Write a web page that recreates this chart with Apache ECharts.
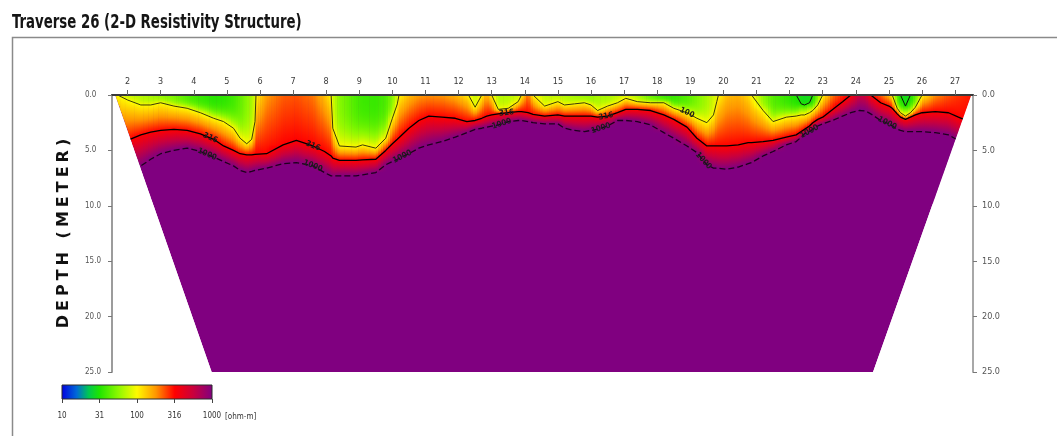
<!DOCTYPE html>
<html>
<head>
<meta charset="utf-8">
<script src="https://cdn.jsdelivr.net/npm/echarts@6/dist/echarts.min.js"></script>
<style>
  html, body { margin: 0; padding: 0; background: #fff; }
  #chart { width: 1057px; height: 436px; }
</style>
</head>
<body>
<div id="chart"></div>
<script>
// Electrode numbers along the traverse (top axis) and depth ticks (m)
const electrodes = [2, 3, 4, 5, 6, 7, 8, 9, 10, 11, 12, 13, 14, 15, 16, 17, 18, 19, 20, 21, 22, 23, 24, 25, 26, 27];
const depthTicks = [0, 5, 10, 15, 20, 25];

// Pseudosection extent, in electrode units: upper corners at 0 m, lower corners at 25 m
const sectionTop = [1.62, 27.49];
const sectionBase = [4.54, 24.52];
const sectionDepth = 25;

// Sounding stations (electrode units) with apparent resistivity at the surface (ohm-m)
const stations = [
  1.62, 1.70, 2.00, 2.40, 2.70, 3.00, 3.40, 3.80, 4.20, 4.60, 4.90, 5.20, 5.40, 5.60, 5.75, 5.85, 5.88,
  6.20, 6.70, 7.10, 7.60, 7.95, 8.15, 8.20, 8.40, 8.90, 9.10, 9.50, 9.80, 10.00, 10.15, 10.20,
  10.50, 10.80, 11.10, 11.50, 11.90, 12.25, 12.30, 12.50, 12.70, 12.85, 13.00, 13.20, 13.50, 13.80, 13.90,
  14.10, 14.25, 14.60, 15.00, 15.20, 15.50, 15.80, 16.00, 16.20, 16.50, 16.80, 17.05, 17.40, 17.80,
  18.20, 18.50, 18.90, 19.20, 19.50, 19.70, 19.80, 19.85, 20.10, 20.45, 20.75, 20.85, 21.20, 21.50,
  21.90, 22.20, 22.35, 22.45, 22.60, 22.70, 22.85, 23.00, 23.30, 23.60, 23.85, 24.10, 24.30, 24.45,
  24.75, 25.00, 25.10, 25.25, 25.35, 25.50, 25.65, 25.80, 26.00, 26.40, 26.80, 27.10, 27.49
];
const surfaceRes = [
  105, 100, 80, 70, 65, 60, 52, 42, 36, 33, 34, 38, 45, 55, 65, 85, 100,
  170, 220, 230, 200, 140, 100, 80, 55, 40, 37, 36, 40, 55, 85, 100,
  140, 170, 180, 175, 150, 110, 100, 75, 100, 160, 100, 70, 70, 80, 100,
  220, 100, 75, 75, 70, 65, 62, 60, 65, 65, 75, 90, 70, 48,
  38, 36, 42, 52, 65, 80, 90, 100, 140, 150, 120, 100, 58, 42,
  36, 31.6, 29, 28, 29, 31.6, 55, 100, 200, 280, 316, 550, 500, 316,
  220, 140, 100, 42, 31.6, 28, 31.6, 45, 100, 180, 230, 260, 290
];
// Depth (m) of each resistivity contour below the stations; null where the contour is absent
const depth31 = [
  null, null, null, null, null, null, null, null, null, null, null, null, null, null, null, null, null,
  null, null, null, null, null, null, null, null, null, null, null, null, null, null, null,
  null, null, null, null, null, null, null, null, null, null, null, null, null, null, null,
  null, null, null, null, null, null, null, null, null, null, null, null, null, null,
  null, null, null, null, null, null, null, null, null, null, null, null, null, null,
  null, 0, 0.8, 0.9, 0.7, 0, null, null, null, null, null, null, null, null,
  null, null, null, null, 0, 1.0, 0, null, null, null, null, null, null
];
const depth100 = [
  null, 0, 0.45, 0.9, 0.9, 0.7, 1.0, 1.2, 1.6, 2.1, 2.4, 3.0, 3.9, 4.4, 4.0, 2.4, 0,
  null, null, null, null, null, 0, 3.0, 4.6, 4.7, 4.5, 4.8, 3.9, 2.1, 0.8, 0,
  null, null, null, null, null, null, 0, 1.1, 0, null, 0, 1.3, 1.2, 0.6, 0,
  null, 0, 1.0, 0.6, 0.9, 0.8, 0.7, 0.9, 1.4, 1.0, 0.7, 0.3, 0.6, 0.7,
  0.7, 1.2, 1.6, 2.1, 2.5, 1.8, 0.6, 0, null, null, null, 0, 1.4, 2.4,
  2.0, 1.9, 1.8, 1.8, 1.6, 1.4, 0.9, 0, null, null, null, null, null, null,
  null, null, 0, 1.2, 1.6, 1.9, 1.6, 1.1, 0, null, null, null, null
];
const depth316 = [
  4.5, 4.4, 4.1, 3.6, 3.35, 3.2, 3.1, 3.2, 3.5, 4.0, 4.6, 5.0, 5.3, 5.4, 5.4, 5.35, 5.3,
  5.3, 4.5, 4.1, 4.6, 5.1, 5.5, 5.7, 5.9, 5.9, 5.85, 5.8, 5.0, 4.4, 4.0, 3.9,
  3.0, 2.3, 1.9, 2.0, 2.1, 2.4, 2.4, 2.3, 2.1, 1.9, 1.8, 1.7, 1.6, 1.5, 1.5,
  1.6, 1.75, 1.9, 1.8, 1.9, 1.9, 1.9, 1.9, 2.0, 1.9, 1.6, 1.3, 1.3, 1.4,
  1.8, 2.2, 2.9, 3.9, 4.6, 4.6, 4.6, 4.6, 4.6, 4.5, 4.3, 4.3, 4.2, 4.1,
  3.8, 3.6, 3.3, 3.1, 2.8, 2.5, 2.2, 2.0, 1.3, 0.6, 0, null, null, 0,
  0.7, 1.0, 1.2, 1.7, 2.0, 2.2, 2.0, 1.8, 1.6, 1.5, 1.6, 2.0, 2.5
];
const depth1000 = [
  6.8, 6.7, 6.6, 6.4, 5.8, 5.3, 5.0, 4.8, 5.1, 5.6, 6.0, 6.4, 6.8, 7.0, 6.9, 6.8, 6.8,
  6.6, 6.2, 6.1, 6.4, 7.0, 7.3, 7.4, 7.3, 7.3, 7.2, 7.0, 6.3, 6.0, 5.8, 5.7,
  5.3, 4.8, 4.5, 4.2, 3.8, 3.4, 3.3, 3.1, 3.0, 2.9, 2.8, 2.7, 2.4, 2.3, 2.3,
  2.4, 2.5, 2.6, 2.6, 3.0, 3.2, 3.3, 3.2, 3.1, 2.8, 2.3, 2.3, 2.4, 2.7,
  3.4, 3.9, 4.6, 5.2, 6.3, 6.6, 6.6, 6.7, 6.7, 6.5, 6.2, 6.1, 5.5, 5.1,
  4.5, 4.2, 3.8, 3.5, 3.3, 3.1, 2.8, 2.6, 2.3, 1.9, 1.6, 1.4, 1.45, 1.7,
  2.3, 2.6, 2.8, 3.1, 3.2, 3.3, 3.3, 3.3, 3.3, 3.4, 3.6, 4.1, 4.8
];

// Contour annotations: [electrode position, contour value]
const contourTags = [
  [4.5, 316], [7.6, 316], [4.4, 1000], [7.6, 1000], [10.3, 1000], [13.3, 1000], [13.45, 316],
  [16.45, 316], [16.3, 1000], [18.9, 100], [19.4, 1000], [22.6, 1000], [24.95, 1000]
];

// Colour scale values (ohm-m) and their printed labels
const scaleValues = [10, 31.6, 100, 316, 1000];
const scaleLabels = ['10', '31', '100', '316', '1000'];

// ---------------------------------------------------------------------------
const NARROW = "'Liberation Sans Narrow', 'DejaVu Sans Condensed', 'Liberation Sans', sans-serif";
const X_MIN = 1.53, X_MAX = 27.54;
const GRAD_DEPTH = 10;      // depth covered by the shaded near-surface band
const GRAD_STEPS = 60;

// log-resistivity palette: blue - green - yellow - red - purple
const palette = [
  [0.00, [0, 0, 225]], [0.10, [0, 105, 215]], [0.18, [0, 200, 80]], [0.25, [30, 228, 0]],
  [0.375, [140, 248, 0]], [0.50, [255, 250, 0]], [0.625, [255, 150, 0]], [0.75, [255, 0, 0]],
  [0.875, [200, 0, 62]], [1.00, [128, 0, 128]]
];
const logMin = Math.log10(scaleValues[0]), logMax = Math.log10(scaleValues[scaleValues.length - 1]);
function colorOfLog(lr) {
  let t = (lr - logMin) / (logMax - logMin);
  t = Math.max(0, Math.min(1, t));
  for (let k = 1; k < palette.length; k++) {
    if (t <= palette[k][0]) {
      const [t0, c0] = palette[k - 1], [t1, c1] = palette[k];
      const f = (t - t0) / (t1 - t0);
      const c = c0.map((v, j) => Math.round(v + (c1[j] - v) * f));
      return 'rgb(' + c.join(',') + ')';
    }
  }
  return 'rgb(128,0,128)';
}

const contourSets = [[depth31, 31.6], [depth100, 100], [depth316, 316], [depth1000, 1000]];
const knotCache = stations.map((x, i) => {
  const knots = [[0, Math.log10(surfaceRes[i])]];
  contourSets.forEach(([arr, lvl]) => {
    const v = arr[i];
    if (v != null && v > 0) knots.push([v, Math.log10(lvl)]);
  });
  knots.sort((a, b) => a[0] - b[0]);
  return knots;
});
// resistivity profile under a station: the low-resistivity cover keeps its value
// until close to its bounding contour, deeper bands grade evenly between contours
function profileAt(i, d) {
  const k = knotCache[i];
  if (d <= k[0][0]) return k[0][1];
  for (let j = 1; j < k.length; j++) {
    if (d <= k[j][0]) {
      let f = (d - k[j - 1][0]) / (k[j][0] - k[j - 1][0]);
      if (j === 1 && k[1][1] <= 2.001) f = Math.pow(f, 3);
      return k[j - 1][1] + (k[j][1] - k[j - 1][1]) * f;
    }
  }
  return k[k.length - 1][1];
}
function depthLimit(x) {
  let d = sectionDepth;
  if (x < sectionBase[0]) d = sectionDepth * (x - sectionTop[0]) / (sectionBase[0] - sectionTop[0]);
  if (x > sectionBase[1]) d = sectionDepth * (sectionTop[1] - x) / (sectionTop[1] - sectionBase[1]);
  return Math.max(0, Math.min(sectionDepth, d));
}

// shaded resistivity field between neighbouring stations
function renderField(params, api) {
  const i = params.dataIndex;
  const xa = stations[i], xb = stations[i + 1];
  const pa = api.coord([xa, 0]), pb = api.coord([xb, 0]);
  const yTop = pa[1], yBot = api.coord([xa, GRAD_DEPTH])[1];
  const n = Math.max(1, Math.ceil((pb[0] - pa[0]) / 2.5));
  const children = [];
  for (let k = 0; k < n; k++) {
    const t0 = k / n, t1 = (k + 1) / n, tm = (t0 + t1) / 2;
    const x0 = xa + (xb - xa) * t0, x1 = xa + (xb - xa) * t1;
    const dl0 = Math.min(GRAD_DEPTH, depthLimit(x0)), dl1 = Math.min(GRAD_DEPTH, depthLimit(x1));
    if (dl0 <= 0 && dl1 <= 0) continue;
    const p0 = api.coord([x0, 0]), p1 = api.coord([x1, 0]);
    const q0 = api.coord([x0, dl0]), q1 = api.coord([x1, dl1]);
    const stops = [];
    for (let s = 0; s <= GRAD_STEPS; s++) {
      const d = GRAD_DEPTH * s / GRAD_STEPS;
      const lr = (1 - tm) * profileAt(i, d) + tm * profileAt(i + 1, d);
      stops.push({ offset: s / GRAD_STEPS, color: colorOfLog(lr) });
    }
    const ov = k === n - 1 ? 0.8 : 0.6;
    children.push({
      type: 'polygon',
      shape: { points: [[p0[0], p0[1]], [p1[0] + ov, p1[1]], [q1[0] + ov, q1[1]], [q0[0], q0[1]]] },
      style: { fill: { type: 'linear', x: 0, y: yTop, x2: 0, y2: yBot, global: true, colorStops: stops } },
      silent: true
    });
  }
  return { type: 'group', children };
}

function renderSection(params, api) {
  const pts = [
    api.coord([sectionTop[0], 0]), api.coord([sectionTop[1], 0]),
    api.coord([sectionBase[1], sectionDepth]), api.coord([sectionBase[0], sectionDepth])
  ];
  return { type: 'polygon', shape: { points: pts }, style: { fill: colorOfLog(logMax) }, silent: true };
}

// white wedges outside the sloping section edges
function renderMask(params, api) {
  const side = params.dataIndex;
  const xEdge = side === 0 ? X_MIN : X_MAX;
  const pts = [
    api.coord([sectionTop[side], 0]), api.coord([sectionBase[side], sectionDepth]),
    api.coord([xEdge, sectionDepth]), api.coord([xEdge, 0])
  ];
  return { type: 'polygon', shape: { points: pts }, style: { fill: '#fff' }, silent: true };
}

const levelArrays = { 31.6: depth31, 100: depth100, 316: depth316, 1000: depth1000 };
function contourDepthAt(arr, x) {
  for (let i = 0; i < stations.length - 1; i++) {
    if (x >= stations[i] && x <= stations[i + 1] && arr[i] != null && arr[i + 1] != null) {
      const f = (x - stations[i]) / (stations[i + 1] - stations[i]);
      return arr[i] + (arr[i + 1] - arr[i]) * f;
    }
  }
  return null;
}
function renderTag(params, api) {
  const x = api.value(0), lvl = api.value(1);
  const arr = levelArrays[lvl];
  const d = contourDepthAt(arr, x);
  if (d == null) return null;
  const da = contourDepthAt(arr, x - 0.15), db = contourDepthAt(arr, x + 0.15);
  const pa = api.coord([x - 0.15, da == null ? d : da]), pb = api.coord([x + 0.15, db == null ? d : db]);
  const p = api.coord([x, d]);
  const ang = -Math.atan2(pb[1] - pa[1], pb[0] - pa[0]);
  return {
    type: 'text', x: p[0], y: p[1], rotation: ang, silent: true,
    style: {
      text: String(lvl), fontSize: 8, fontWeight: 'bold', fontFamily: NARROW,
      fill: '#1c1c1c', align: 'center', verticalAlign: 'middle'
    }
  };
}

function contourSeries(arr, color, width, dash) {
  return {
    type: 'line', xAxisIndex: 0, yAxisIndex: 0, z: 3, silent: true,
    showSymbol: false, symbol: 'none', connectNulls: false,
    data: stations.map((x, i) => [x, arr[i] == null ? null : arr[i]]),
    lineStyle: { color, width, type: dash || 'solid' }
  };
}

const scaleLogs = scaleValues.map(v => Math.log10(v));
function scaleLabel(v) {
  let best = 0;
  scaleLogs.forEach((l, k) => { if (Math.abs(l - v) < Math.abs(scaleLogs[best] - v)) best = k; });
  return scaleLabels[best];
}
function renderColorbar(params, api) {
  const a = api.coord([api.value(0), 0]), b = api.coord([api.value(1), 1]);
  const stops = palette.map(([t, c]) => ({ offset: t, color: 'rgb(' + c.join(',') + ')' }));
  return {
    type: 'rect', silent: true,
    shape: { x: a[0], y: b[1], width: b[0] - a[0], height: a[1] - b[1] },
    style: { fill: { type: 'linear', x: 0, y: 0, x2: 1, y2: 0, colorStops: stops }, stroke: '#2a2a2a', lineWidth: 1 }
  };
}

const nameSpaced = 'DEPTH (METER)'.split('').join('\u2005');

const chart = echarts.init(document.getElementById('chart'), null, { renderer: 'canvas' });
chart.setOption({
  animation: false,
  backgroundColor: '#fff',
  graphic: [
    {
      type: 'polyline', z: 1, silent: true,
      shape: { points: [[12.5, 436], [12.5, 37.5], [1057, 37.5]] },
      style: { stroke: '#8a8a8a', lineWidth: 1.5, fill: null }
    },
    {
      type: 'text', x: 12, y: 13, scaleX: 0.74, silent: true,
      style: {
        text: 'Traverse 26 (2-D Resistivity Structure)', fontSize: 20, fontWeight: 'bold',
        fontFamily: NARROW, fill: '#151515'
      }
    }
  ],
  grid: [
    { left: 112, right: 84, top: 95, bottom: 64 },
    { left: 62, width: 150, top: 385, height: 14 }
  ],
  xAxis: [
    {
      gridIndex: 0, type: 'value', position: 'top', min: X_MIN, max: X_MAX, z: 20,
      axisLine: { show: true, lineStyle: { color: '#3a3a3a', width: 2 } },
      axisTick: { show: true, customValues: electrodes, length: 5, lineStyle: { color: '#666' } },
      axisLabel: { show: true, customValues: electrodes, fontSize: 9, fontFamily: NARROW, color: '#3a3a3a', margin: 9 },
      splitLine: { show: false }
    },
    {
      gridIndex: 1, type: 'value', position: 'bottom', min: logMin, max: logMax, z: 20,
      axisLine: { show: false },
      axisTick: { show: true, customValues: scaleLogs, length: 4, lineStyle: { color: '#444' } },
      axisLabel: {
        show: true, customValues: scaleLogs, formatter: v => scaleLabel(v),
        fontSize: 8, fontFamily: NARROW, color: '#333', margin: 13
      },
      splitLine: { show: false },
      name: '[ohm-m]', nameLocation: 'end', nameGap: 11,
      nameTextStyle: { fontSize: 8, fontFamily: NARROW, color: '#333', verticalAlign: 'top', padding: [14, 0, 0, 0] }
    }
  ],
  yAxis: [
    {
      gridIndex: 0, type: 'value', position: 'left', inverse: true, min: 0, max: sectionDepth, interval: 5, z: 20,
      axisLine: { show: true, lineStyle: { color: '#9c9c9c', width: 2 } },
      axisTick: { show: true, length: 4, lineStyle: { color: '#777' } },
      axisLabel: {
        show: true, formatter: v => v.toFixed(1), fontSize: 8, fontFamily: NARROW,
        color: '#555', margin: 27, align: 'left'
      },
      splitLine: { show: false },
      name: nameSpaced, nameLocation: 'middle', nameGap: 40, nameRotate: 90,
      nameTextStyle: { fontSize: 16, fontWeight: 'bold', fontFamily: "'DejaVu Sans', sans-serif", color: '#111' }
    },
    {
      gridIndex: 0, type: 'value', position: 'right', inverse: true, min: 0, max: sectionDepth, interval: 5, z: 20,
      axisLine: { show: true, lineStyle: { color: '#a8a8a8', width: 2 } },
      axisTick: { show: true, length: 4, inside: false, lineStyle: { color: '#777' } },
      axisLabel: { show: true, formatter: v => v.toFixed(1), fontSize: 9, fontFamily: NARROW, color: '#555', margin: 9 },
      splitLine: { show: false }
    },
    { gridIndex: 1, type: 'value', min: 0, max: 1, show: false }
  ],
  series: [
    {
      type: 'custom', xAxisIndex: 0, yAxisIndex: 0, z: 1, silent: true,
      data: [[sectionTop[0], sectionTop[1], 0, sectionDepth]],
      encode: { x: [0, 1], y: [2, 3] }, renderItem: renderSection
    },
    {
      type: 'custom', xAxisIndex: 0, yAxisIndex: 0, z: 2, silent: true,
      data: stations.slice(0, -1).map((x, i) => [x, stations[i + 1], 0, GRAD_DEPTH]),
      encode: { x: [0, 1], y: [2, 3] }, renderItem: renderField
    },
    contourSeries(depth31, '#101010', 1),
    contourSeries(depth100, '#3a3a08', 1),
    contourSeries(depth316, '#000000', 1.3),
    contourSeries(depth1000, '#1e001e', 1.3, [6, 3]),
    {
      type: 'custom', xAxisIndex: 0, yAxisIndex: 0, z: 5, silent: true,
      data: [[sectionTop[0], sectionBase[0], 0, sectionDepth], [sectionTop[1], sectionBase[1], 0, sectionDepth]],
      encode: { x: [0, 1], y: [2, 3] }, renderItem: renderMask
    },
    {
      type: 'custom', xAxisIndex: 0, yAxisIndex: 0, z: 6, silent: true,
      data: contourTags, encode: { x: 0 }, renderItem: renderTag
    },
    {
      type: 'custom', xAxisIndex: 1, yAxisIndex: 2, z: 2, silent: true,
      data: [[scaleLogs[0], scaleLogs[scaleLogs.length - 1], 0, 1]],
      encode: { x: [0, 1], y: [2, 3] }, renderItem: renderColorbar
    }
  ]
});
</script>
</body>
</html>
